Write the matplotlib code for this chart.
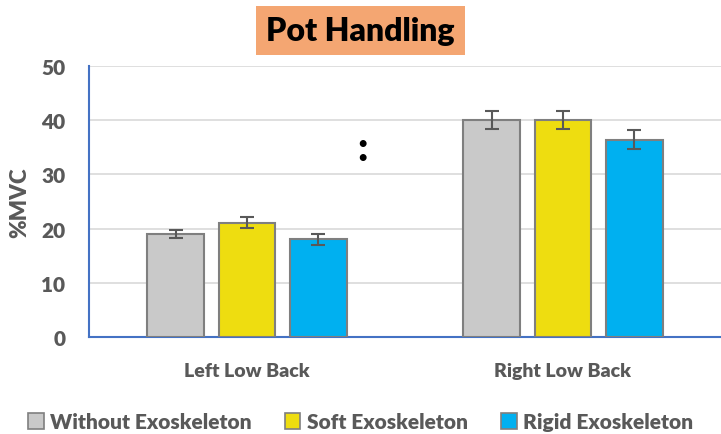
import numpy as np
import matplotlib.pyplot as plt
from matplotlib.patches import Patch

plt.rcParams['font.family'] = ['Lato', 'DejaVu Sans']

categories = ["Left Low Back", "Right Low Back"]
series = ["Without Exoskeleton", "Soft Exoskeleton", "Rigid Exoskeleton"]
values = {
    "Without Exoskeleton": [19.0, 40.0],
    "Soft Exoskeleton": [21.1, 40.0],
    "Rigid Exoskeleton": [18.0, 36.4],
}
errors = {
    "Without Exoskeleton": [0.7, 1.7],
    "Soft Exoskeleton": [1.0, 1.7],
    "Rigid Exoskeleton": [1.0, 1.7],
}
colors = ["#C9C9C9", "#EEDD10", "#00B0F0"]
yticks = [0, 10, 20, 30, 40, 50]

txt = "#595959"
fig = plt.figure(figsize=(7.21, 4.35), dpi=100)
ax = fig.add_axes([0.1234, 0.223, 0.8766, 0.623])

x = np.arange(len(categories))
width = 0.18
step = 0.225
for i, s in enumerate(series):
    ax.bar(x + (i - 1) * step, values[s], width, color=colors[i],
           edgecolor="#7F7F7F", linewidth=1.5, zorder=3,
           yerr=errors[s], error_kw=dict(ecolor="#595959", elinewidth=1.5,
                                         capsize=5, capthick=1.5, zorder=4))

ax.set_xlim(-0.5, 1.5)
ax.set_ylim(0, 50)
ax.set_yticks(yticks)
ax.set_xticks(x)
ax.set_xticklabels(categories)
ax.grid(axis="y", color="#D9D9D9", linewidth=1.2, zorder=0)
for sp in ["top", "right"]:
    ax.spines[sp].set_visible(False)
for sp in ["left", "bottom"]:
    ax.spines[sp].set_color("#4472C4")
    ax.spines[sp].set_linewidth(1.5)
ax.tick_params(axis="y", length=0, colors=txt, labelsize=15, pad=17)
ax.tick_params(axis="x", length=0, colors=txt, labelsize=14, pad=18)
for lab in ax.get_xticklabels() + ax.get_yticklabels():
    lab.set_fontweight("heavy")
ax.set_ylabel("%MVC", fontsize=16, fontweight="heavy", color=txt, labelpad=8)

ax.text(0.364, 34.8, ":", fontsize=28, fontweight="heavy", ha="center", va="center")

fig.text(0.5, 0.928, "Pot Handling", fontsize=23, fontweight="heavy",
         ha="center", va="center",
         bbox=dict(boxstyle="square,pad=0.32", facecolor="#F4A672",
                   edgecolor="none"))

handles = [Patch(facecolor=c, edgecolor="#7F7F7F", linewidth=1.2) for c in colors]
leg = fig.legend(handles, series, loc="center", bbox_to_anchor=(0.5, 0.028),
                 ncol=3, frameon=False, handlelength=0.75, handleheight=0.75,
                 handletextpad=0.3, columnspacing=1.6,
                 prop=dict(size=15, weight="heavy"))
for t in leg.get_texts():
    t.set_color(txt)

fig.savefig("out.png", dpi=100)
